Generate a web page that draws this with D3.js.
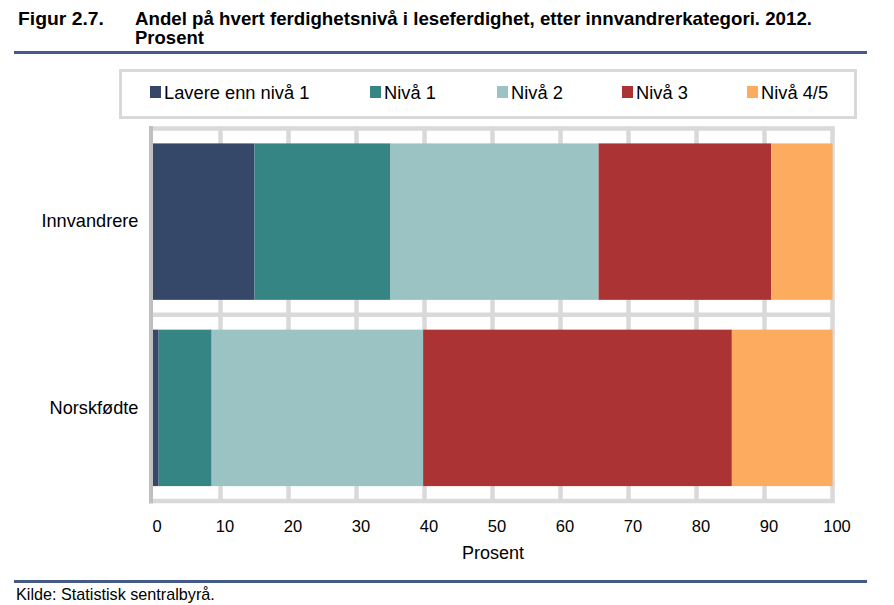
<!DOCTYPE html>
<html><head><meta charset="utf-8">
<script src="https://cdn.jsdelivr.net/npm/d3@7"></script>
<style>body{margin:0;background:#fff;} svg{display:block;font-family:"Liberation Sans",Arial,sans-serif;}</style>
</head><body>
<svg id="c" width="894" height="605"></svg>
<script>
const categories = ["Innvandrere", "Norskfødte"];
const seriesNames = ["Lavere enn nivå 1", "Nivå 1", "Nivå 2", "Nivå 3", "Nivå 4/5"];
const lavere = [15.0, 0.9];
const niva1 = [20.0, 7.8];
const niva2 = [30.6, 31.1];
const niva3 = [25.4, 45.4];
const niva45 = [9.0, 14.8];
const tickValues = [0, 10, 20, 30, 40, 50, 60, 70, 80, 90, 100];
const colors = ["#36486a", "#348583", "#9bc3c3", "#ac3333", "#fdac5f"];

const svg = d3.select("#c");
const L = 152.5, R = 832.5, T = 128.5, B = 501;
const x = d3.scaleLinear().domain([0, 100]).range([L, R]);
const y = d3.scaleBand().domain(categories).range([T, B]).padding(0);

// title
svg.append("text").attr("x", 18).attr("y", 25).attr("font-weight", "bold").attr("font-size", 18.5)
  .attr("textLength", 86).attr("lengthAdjust", "spacingAndGlyphs").text("Figur 2.7.");
svg.append("text").attr("x", 135).attr("y", 25).attr("font-weight", "bold").attr("font-size", 18.5)
  .attr("textLength", 677).attr("lengthAdjust", "spacingAndGlyphs")
  .text("Andel på hvert ferdighetsnivå i leseferdighet, etter innvandrerkategori. 2012.");
svg.append("text").attr("x", 135).attr("y", 44).attr("font-weight", "bold").attr("font-size", 18.5).text("Prosent");
svg.append("rect").attr("x", 14).attr("y", 51).attr("width", 853).attr("height", 3).attr("fill", "#465a88");
svg.append("rect").attr("x", 14).attr("y", 580).attr("width", 853).attr("height", 3).attr("fill", "#465a88");
svg.append("text").attr("x", 16).attr("y", 600).attr("font-size", 16.2).text("Kilde: Statistisk sentralbyrå.");

// legend box
svg.append("rect").attr("x", 120.5).attr("y", 70.5).attr("width", 735).attr("height", 47)
  .attr("fill", "#fff").attr("stroke", "#d9d9d9").attr("stroke-width", 3);
const legX = [150, 370, 497, 622, 747];
seriesNames.forEach((n, i) => {
  svg.append("rect").attr("x", legX[i]).attr("y", 86).attr("width", 11).attr("height", 12).attr("fill", colors[i]);
  svg.append("text").attr("x", legX[i] + 14).attr("y", 99).attr("font-size", 18.3).text(n);
});

// grid
const g = svg.append("g");
tickValues.forEach(v => {
  if (v === 0) return;
  g.append("line").attr("x1", x(v)).attr("x2", x(v)).attr("y1", T - 2).attr("y2", B + 2)
    .attr("stroke", "#d9d9d9").attr("stroke-width", 4.5);
});
const hLines = [T, y(categories[1]), B];
hLines.forEach(v => {
  g.append("line").attr("x1", L).attr("x2", R + 2).attr("y1", v).attr("y2", v)
    .attr("stroke", "#d9d9d9").attr("stroke-width", 4.5);
});

// bars
const table = categories.map((c, i) => ({cat: c, "Lavere enn nivå 1": lavere[i], "Nivå 1": niva1[i], "Nivå 2": niva2[i], "Nivå 3": niva3[i], "Nivå 4/5": niva45[i]}));
const stack = d3.stack().keys(seriesNames)(table);
const bh = y.bandwidth() * 0.84;
const off = (y.bandwidth() - bh) / 2;
stack.forEach((s, si) => {
  svg.append("g").attr("fill", colors[si]).selectAll("rect").data(s).join("rect")
    .attr("x", d => x(d[0])).attr("width", d => x(d[1]) - x(d[0]))
    .attr("y", d => y(d.data.cat) + off).attr("height", bh);
});

// left axis line
svg.append("line").attr("x1", L - 1.5).attr("x2", L - 1.5).attr("y1", T - 2.5).attr("y2", B + 2.5)
  .attr("stroke", "#c0c0c0").attr("stroke-width", 4);

// x axis labels
const xa = svg.append("g").attr("transform", `translate(4,${B})`)
  .call(d3.axisBottom(x).tickValues(tickValues).tickSize(0).tickPadding(19).tickFormat(d3.format("d")));
xa.select(".domain").remove();
xa.selectAll("text").attr("font-size", 16.5).attr("font-family", "Liberation Sans, Arial, sans-serif").attr("fill", "#000");
svg.append("text").attr("x", 493).attr("y", 559).attr("text-anchor", "middle").attr("font-size", 18).text("Prosent");

// y labels
const ya = svg.append("g").attr("transform", `translate(${L - 14},0)`)
  .call(d3.axisLeft(y).tickSize(0).tickPadding(0));
ya.select(".domain").remove();
ya.selectAll("text").attr("font-size", 18.2).attr("font-family", "Liberation Sans, Arial, sans-serif").attr("fill", "#000");
</script>
</body></html>
